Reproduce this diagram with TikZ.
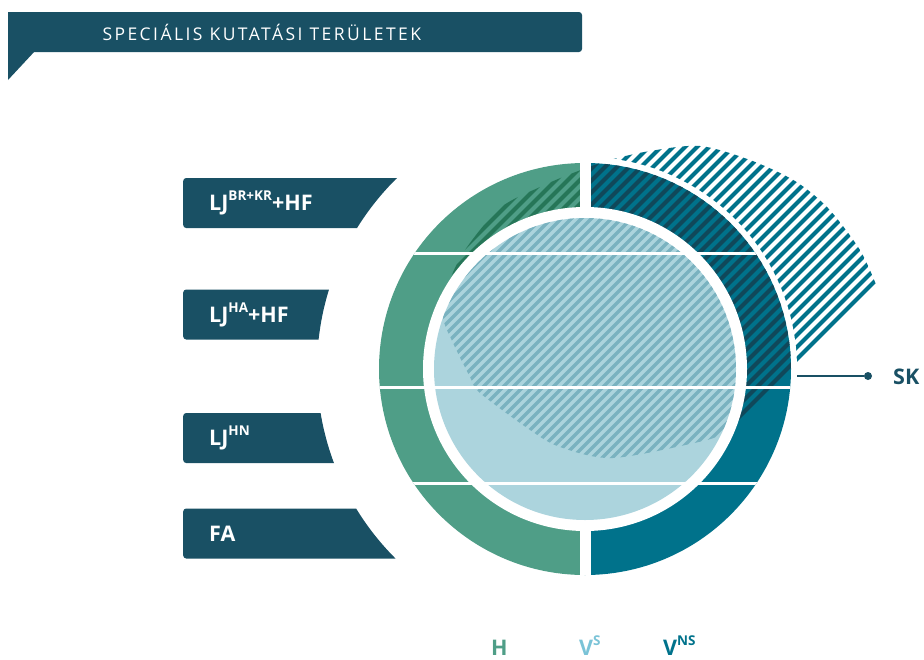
\documentclass[tikz,border=0pt]{standalone}
\usepackage{fontspec}
\setmainfont{Open Sans}
\newfontfamily\titlefont[LetterSpace=14]{Open Sans}
\usetikzlibrary{positioning}

\definecolor{navy}{RGB}{25,80,100}
\definecolor{hgreen}{RGB}{79,158,135}
\definecolor{hdark}{RGB}{38,118,88}
\definecolor{vns}{RGB}{0,114,139}
\definecolor{vnsdark}{RGB}{16,72,90}
\definecolor{disk}{RGB}{172,212,221}
\definecolor{diskdark}{RGB}{122,178,192}
\definecolor{vslight}{RGB}{122,195,215}

\newcommand\labelfont{\fontsize{21.5}{25}\selectfont\bfseries}
\newcommand\hi[1]{\raisebox{10pt}{\fontsize{13.5}{14}\selectfont #1}}
\def\skshape{(877,287) -- plot[smooth] coordinates {(745,419) (725,432) (703,441)
    (613,458) (560,447) (530,430) (480,393) (470,377) (453,343) (443,317) (448,285)
    (465,250) (500,208) (540,187) (573,173) (610,160) (650,151) (700,146) (750,160)
    (795,181) (828,208) (860,250) (877,287)} -- cycle}

\begin{document}
\begin{tikzpicture}[x=1pt,y=-1pt,
    labelbox/.style={fill=navy, text=white, rounded corners=3pt, anchor=west,
        minimum height=50pt, text width=188pt, inner xsep=26pt, align=left,
        text height=15.3pt, text depth=0pt, font=\labelfont},
    stripes/.style={line width=4pt}]
\useasboundingbox (0,0) rectangle (924,659);

% banner
\fill[navy, rounded corners=3pt] (8,12) -- (582,12) -- (582,52) -- (8,52) -- cycle;
\fill[navy] (8,12) rectangle (20,52);
\fill[navy] (8,51) -- (8,80) -- (35,51) -- cycle;
\node[anchor=west, text=white, font=\titlefont\fontsize{17.5}{20}\selectfont] (title) at (99,32)
    {SPECIÁLIS KUTATÁSI TERÜLETEK};

% left labels
\begin{scope}[even odd rule]
    \clip (0,0) rectangle (924,659) (585,369) circle (268);
    \node[labelbox] (ljbk) at (183,203) {LJ\hi{BR+KR}+HF};
    \node[labelbox] (ljha) at (183,314.5) {LJ\hi{HA}+HF};
    \node[labelbox] (ljhn) at (183,438) {LJ\hi{HN}};
    \node[labelbox] (fa) at (183,533.5) {FA};
\end{scope}

\coordinate (c) at (585,369);

% SK area outside the ring
\begin{scope}
    \clip \skshape;
    \foreach \i in {-300,-288,...,1000}
        \draw[stripes, vns] (\i,700) -- ++(700,-700);
\end{scope}
\fill[white] (c) circle (212);

% ring
\begin{scope}
    \clip (c) circle (206);
    \fill[hgreen] (300,150) rectangle (585,600);
    \fill[vns] (585,150) rectangle (850,600);
    \begin{scope}
        \clip \skshape;
        \begin{scope}
            \clip (300,150) rectangle (585,600);
            \foreach \i in {-300,-288,...,1000}
                \draw[stripes, hdark] (\i,700) -- ++(700,-700);
        \end{scope}
        \begin{scope}
            \clip (585,150) rectangle (850,600);
            \foreach \i in {-300,-288,...,1000}
                \draw[stripes, vnsdark] (\i,700) -- ++(700,-700);
        \end{scope}
    \end{scope}
    \fill[white] (579.5,150) rectangle (590.5,600);
\end{scope}

% inner disk
\fill[white] (c) circle (162);
\fill[disk] (c) circle (151);
\begin{scope}
    \clip (c) circle (151);
    \clip \skshape;
    \foreach \i in {-300,-290,...,1000}
        \draw[stripes, diskdark, line width=3.5pt] (\i,700) -- ++(700,-700);
\end{scope}

\begin{scope}
    \clip (c) circle (206);
    \foreach \y in {253,387,483}
        \draw[white, line width=3pt] (370,\y) -- (800,\y);
\end{scope}

% SK marker
\coordinate (skfrom) at (797,376);
\node[circle, fill=navy, inner sep=0pt, minimum size=8pt] (skdot) at (868,376) {};
\node[anchor=west, text=navy, font=\labelfont, inner sep=0pt] (sk) at (893,377) {SK};
\draw[navy, line width=1.5pt] (skfrom) -- (skdot);

% legend
\node[anchor=base west, inner sep=0pt, text=hgreen, font=\labelfont] (lh) at (491,655) {H};
\node[anchor=base west, inner sep=0pt, text=vslight, font=\labelfont] (lvs) at (579,655) {V\hi{S}};
\node[anchor=base west, inner sep=0pt, text=vns, font=\labelfont] (lvns) at (663,655) {V\hi{NS}};
\end{tikzpicture}
\end{document}
